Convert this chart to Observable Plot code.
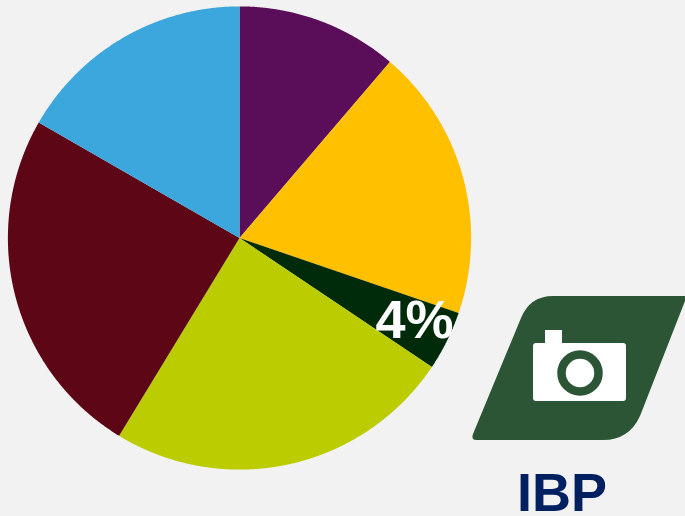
<!DOCTYPE html>
<html>
<head>
<meta charset="utf-8">
<script src="https://cdn.jsdelivr.net/npm/d3@7"></script>
<script src="https://cdn.jsdelivr.net/npm/@observablehq/plot@0.6"></script>
<style>
html,body{margin:0;padding:0;background:#f2f2f2;overflow:hidden}
svg{display:block}
</style>
</head>
<body>
<div id="chart"></div>
<script>
const slices = ["Purple","Yellow","Dark green","Lime","Maroon","Blue"];
const shares = [11.25, 19.0, 4.15, 24.3, 24.6, 16.7];
const colors = ["#5a0d59","#ffc000","#002b0a","#bbcc00","#5c0616","#3ba7dd"];
const sliceLabels = [{text:"4%"}];
const brand = "IBP";

const W = 685, H = 516, cx = 239.5, cy = 238, r = 231.6;
const arcs = d3.pie().sort(null)(shares);
const wedge = arcs.flatMap((a, i) => {
  const n = Math.max(2, Math.ceil((a.endAngle - a.startAngle) / 0.004));
  return d3.range(n + 1).map(k => {
    const t = a.startAngle + (a.endAngle - a.startAngle) * k / n;
    return {slice: slices[i], x1: cx, y1: cy, x2: cx + r * Math.sin(t), y2: cy - r * Math.cos(t)};
  });
});

const logo = () => {
  const g = d3.create("svg:g");
  g.append("path").attr("fill", "#2b5535")
    .attr("d", "M553 296H685V301L640 416Q629 440 603 440H476Q471 440 473 434L521 318Q530 296 553 296Z");
  g.append("path").attr("fill", "#fff")
    .attr("d", "M545 343V330H562V343H623Q626 343 626 346V398Q626 401 623 401H536Q533 401 533 398V346Q533 343 536 343Z");
  g.append("circle").attr("cx", 580).attr("cy", 373).attr("r", 18.5)
    .attr("fill", "#fff").attr("stroke", "#2b5535").attr("stroke-width", 8.5);
  return g.node();
};

const chart = Plot.plot({
  width: W, height: H,
  margin: 0,
  style: {background: "#f2f2f2"},
  x: {domain: [0, W], range: [0, W], axis: null},
  y: {domain: [0, H], range: [0, H], axis: null},
  color: {domain: slices, range: colors},
  marks: [
    Plot.area(wedge, {x1: "x1", y1: "y1", x2: "x2", y2: "y2", z: "slice", fill: "slice", curve: "linear"}),
    Plot.text(sliceLabels, {x: () => 414, y: () => 320, text: "text", fill: "#fff", fontSize: 54, fontWeight: 700, fontFamily: "Liberation Sans"}),
    logo,
    Plot.text([brand], {x: () => 561.5, y: () => 493, text: d => d, fill: "#002060", fontSize: 54, fontWeight: 700, fontFamily: "Liberation Sans"})
  ]
});
document.getElementById("chart").append(chart);
</script>
</body>
</html>
